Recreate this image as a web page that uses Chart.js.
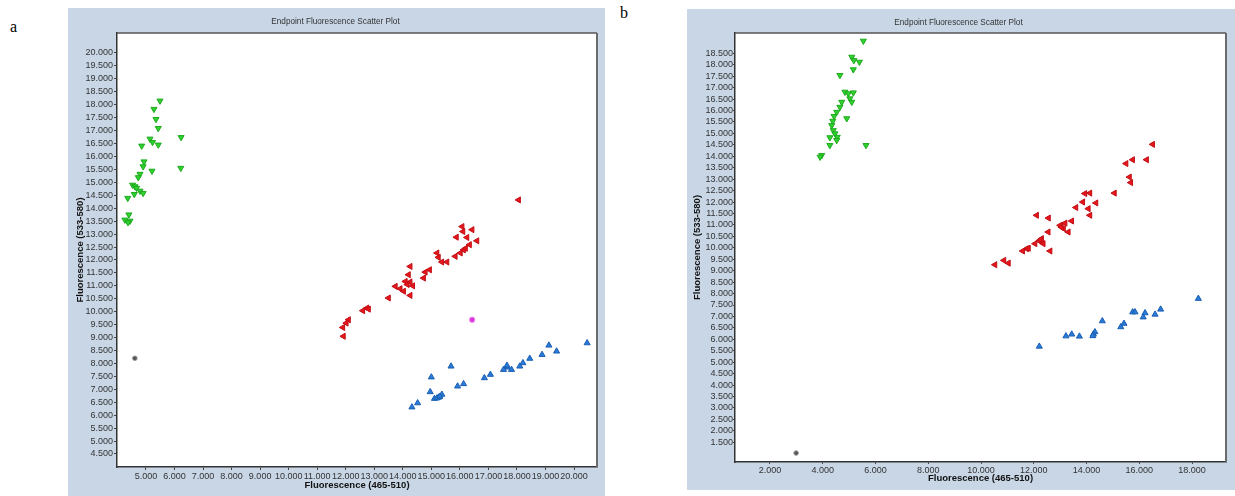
<!DOCTYPE html>
<html>
<head>
<meta charset="utf-8">
<script src="https://cdn.jsdelivr.net/npm/chart.js@4/dist/chart.umd.min.js"></script>
<style>
  body { margin: 0; background: #fff; width: 1235px; height: 496px; overflow: hidden; position: relative; }
  .panel { position: absolute; }
  .tag { position: absolute; font: 16px "Liberation Serif", serif; color: #000; line-height: 16px; }
</style>
</head>
<body>
<div class="tag" style="left:10px;top:19px">a</div>
<div class="tag" style="left:620px;top:5px">b</div>
<canvas id="chartA" class="panel" width="537" height="488" style="left:68px;top:8px"></canvas>
<canvas id="chartB" class="panel" width="548" height="481" style="left:687px;top:9px"></canvas>
<script>
// panel a (thousands of RFU)
const greenAx = [5.49, 5.28, 5.35, 5.43, 6.23, 5.14, 5.23, 4.85, 5.43, 4.93, 4.90, 5.21, 6.22, 4.79, 4.73, 4.53, 4.61, 4.67, 4.79, 4.90, 4.59, 4.36, 4.40, 4.26, 4.44, 4.37];
const greenAy = [18.15, 17.83, 17.44, 17.09, 16.74, 16.68, 16.55, 16.41, 16.45, 15.80, 15.61, 15.44, 15.55, 15.32, 15.19, 14.90, 14.84, 14.78, 14.67, 14.58, 14.54, 14.39, 13.75, 13.55, 13.51, 13.45];
const redAx = [18.06, 16.08, 16.43, 16.11, 15.88, 16.25, 16.60, 16.34, 16.13, 16.02, 15.84, 15.20, 15.25, 15.37, 15.55, 14.26, 14.94, 14.79, 14.20, 14.73, 14.09, 14.26, 13.74, 13.91, 14.16, 14.03, 14.26, 13.50, 12.74, 12.60, 12.10, 12.02, 11.90, 11.92, 12.80, 14.35, 16.20];
const redAy = [14.32, 13.29, 13.17, 13.10, 12.88, 12.87, 12.74, 12.59, 12.39, 12.27, 12.14, 12.27, 12.10, 11.92, 11.92, 11.75, 11.62, 11.53, 11.43, 11.30, 11.17, 11.15, 10.98, 10.89, 11.05, 10.79, 10.63, 10.53, 10.14, 10.04, 9.69, 9.56, 9.39, 9.05, 10.10, 11.00, 12.45];
const blueAx = [20.46, 19.12, 19.39, 18.88, 18.45, 18.21, 18.10, 17.65, 17.53, 17.81, 17.65, 17.07, 16.86, 15.69, 15.00, 16.13, 15.92, 14.96, 15.37, 15.26, 15.11, 14.52, 14.32, 15.20, 15.30];
const blueAy = [8.79, 8.70, 8.47, 8.34, 8.19, 8.02, 7.89, 7.85, 7.76, 7.76, 7.92, 7.57, 7.44, 7.89, 7.47, 7.21, 7.12, 6.90, 6.80, 6.69, 6.64, 6.47, 6.31, 6.66, 6.72];
const pinkAx = [16.43];
const pinkAy = [9.69];
const greyAx = [4.61];
const greyAy = [8.20];

// panel b
const greenBx = [5.54, 5.10, 5.18, 5.39, 5.16, 4.65, 4.84, 4.97, 5.16, 5.03, 5.10, 4.72, 4.65, 4.53, 4.91, 4.43, 4.38, 4.34, 4.40, 4.46, 4.55, 4.27, 4.53, 4.27, 5.64, 3.96, 3.90];
const greenBy = [19.04, 18.34, 18.19, 18.12, 17.79, 17.54, 16.81, 16.74, 16.78, 16.52, 16.37, 16.37, 16.15, 15.93, 15.65, 15.75, 15.54, 15.35, 15.13, 14.99, 14.84, 14.82, 14.70, 14.48, 14.48, 14.04, 13.97];
const redBx = [16.51, 15.75, 15.50, 16.28, 15.63, 15.68, 15.06, 14.13, 13.94, 13.86, 14.36, 13.60, 14.07, 14.13, 12.11, 12.56, 13.44, 13.19, 13.00, 13.13, 13.31, 12.55, 12.30, 12.21, 12.05, 12.36, 12.62, 11.73, 11.58, 10.87, 11.04, 10.53, 13.05, 12.25, 11.80];
const redBy = [14.52, 13.85, 13.68, 13.85, 13.09, 12.85, 12.39, 12.39, 12.37, 12.00, 11.96, 11.76, 11.71, 11.42, 11.42, 11.30, 11.17, 11.08, 10.98, 10.84, 10.69, 10.69, 10.40, 10.30, 10.18, 10.18, 9.86, 9.96, 9.86, 9.45, 9.33, 9.26, 10.90, 10.35, 9.98];
const blueBx = [18.24, 16.81, 16.60, 16.22, 16.15, 15.75, 15.84, 15.42, 15.30, 14.60, 14.32, 14.26, 14.24, 13.73, 13.44, 13.22, 12.21];
const blueBy = [7.78, 7.31, 7.09, 7.15, 6.97, 7.19, 7.19, 6.69, 6.54, 6.80, 6.32, 6.22, 6.15, 6.13, 6.22, 6.14, 5.69];
const greyBx = [2.99];
const greyBy = [1.03];

// tick labels
const xTicksA = [5, 6, 7, 8, 9, 10, 11, 12, 13, 14, 15, 16, 17, 18, 19, 20];
const yTicksA = [4.5, 5, 5.5, 6, 6.5, 7, 7.5, 8, 8.5, 9, 9.5, 10, 10.5, 11, 11.5, 12, 12.5, 13, 13.5, 14, 14.5, 15, 15.5, 16, 16.5, 17, 17.5, 18, 18.5, 19, 19.5, 20];
const xTicksB = [2, 4, 6, 8, 10, 12, 14, 16, 18];
const yTicksB = [1.5, 2, 2.5, 3, 3.5, 4, 4.5, 5, 5.5, 6, 6.5, 7, 7.5, 8, 8.5, 9, 9.5, 10, 10.5, 11, 11.5, 12, 12.5, 13, 13.5, 14, 14.5, 15, 15.5, 16, 16.5, 17, 17.5, 18, 18.5];

const TITLE = 'Endpoint Fluorescence Scatter Plot';
const FRAME = '#c8d6e6';
const FONT = '"Liberation Sans", Arial, sans-serif';

const pts = (xs, ys) => xs.map((x, i) => ({ x, y: ys[i] }));

// frame, white plot area, border and title
const framePlugin = {
  id: 'frame',
  beforeDraw(chart, args, opts) {
    const { ctx, chartArea: a } = chart;
    ctx.save();
    ctx.fillStyle = FRAME;
    ctx.fillRect(0, 0, chart.width, chart.height);
    ctx.fillStyle = '#fff';
    ctx.fillRect(a.left, a.top, a.right - a.left, a.bottom - a.top);
    ctx.restore();
  },
  afterDraw(chart, args, opts) {
    const { ctx, chartArea: a } = chart;
    ctx.save();
    ctx.strokeStyle = '#555';
    ctx.lineWidth = 1.5;
    ctx.beginPath();
    ctx.moveTo(a.left, a.top);
    ctx.lineTo(a.right, a.top);
    ctx.stroke();
    ctx.strokeStyle = '#6b6b6b';
    ctx.lineWidth = 2;
    ctx.beginPath();
    ctx.moveTo(a.right, a.top);
    ctx.lineTo(a.right, a.bottom);
    ctx.stroke();
    ctx.fillStyle = '#333';
    ctx.font = '8.2px ' + FONT;
    ctx.textAlign = 'center';
    ctx.textBaseline = 'middle';
    ctx.fillText(TITLE, opts.titleX, opts.titleY);
    ctx.restore();
  }
};

function axis(min, max, ticks, title, o) {
  return {
    type: 'linear',
    min, max,
    afterBuildTicks: s => { s.ticks = ticks.map(v => ({ value: v })); },
    afterFit: s => { if (s.isHorizontal()) s.height = o.size; else s.width = o.size; },
    ticks: {
      autoSkip: false,
      maxRotation: 0,
      padding: o.pad,
      color: '#333',
      font: { family: FONT, size: 9 },
      callback: v => Number(v).toFixed(3)
    },
    grid: { drawOnChartArea: false, drawTicks: true, tickLength: o.tick, color: '#444' },
    border: { display: true, color: '#333', width: 1.5 },
    title: {
      display: true,
      text: title,
      color: '#111',
      font: { family: FONT, size: 9.5, weight: 'bold' },
      padding: o.titlePad
    }
  };
}

function makeChart(id, sets, scales, layoutPad, titlePos) {
  return new Chart(document.getElementById(id), {
    type: 'scatter',
    data: { datasets: sets },
    options: {
      responsive: false,
      animation: false,
      devicePixelRatio: 1,
      layout: { padding: layoutPad },
      plugins: {
        legend: { display: false },
        tooltip: { enabled: false },
        frame: titlePos
      },
      scales
    },
    plugins: [framePlugin]
  });
}

const green = (xs, ys) => ({ data: pts(xs, ys), pointStyle: 'triangle', rotation: 180, pointRadius: 3.5, backgroundColor: '#2ed12e', borderColor: '#1faa1f', borderWidth: 1 });
const red = (xs, ys) => ({ data: pts(xs, ys), pointStyle: 'triangle', rotation: 270, pointRadius: 3.5, backgroundColor: '#e8161c', borderColor: '#c00f14', borderWidth: 1 });
const blue = (xs, ys) => ({ data: pts(xs, ys), pointStyle: 'triangle', rotation: 0, pointRadius: 3.5, backgroundColor: '#2a7ad8', borderColor: '#1b5fb2', borderWidth: 1 });
const pink = (xs, ys) => ({ data: pts(xs, ys), pointStyle: 'circle', pointRadius: 2.8, backgroundColor: '#dd33dd', borderColor: '#efa0ef', borderWidth: 1 });
const grey = (xs, ys) => ({ data: pts(xs, ys), pointStyle: 'circle', pointRadius: 2.3, backgroundColor: '#555', borderColor: '#999', borderWidth: 1 });

makeChart('chartA',
  [green(greenAx, greenAy), red(redAx, redAy), blue(blueAx, blueAy), pink(pinkAx, pinkAy), grey(greyAx, greyAy)],
  {
    x: axis(3.984, 20.806, xTicksA, 'Fluorescence (465-510)', { size: 29, pad: 1, tick: 3, titlePad: { top: 0, bottom: 5 } }),
    y: axis(3.997, 20.773, yTicksA, 'Fluorescence (533-580)', { size: 49, pad: 1, tick: 3, titlePad: { top: 7, bottom: 0 } })
  },
  { left: 0, top: 25, right: 8, bottom: 0 },
  { titleX: 267.5, titleY: 14 }
);

makeChart('chartB',
  [green(greenBx, greenBy), red(redBx, redBy), blue(blueBx, blueBy), grey(greyBx, greyBy)],
  {
    x: axis(0.673, 19.289, xTicksB, 'Fluorescence (465-510)', { size: 28, pad: 1.5, tick: 2, titlePad: { top: 0, bottom: 6 } }),
    y: axis(0.639, 19.387, yTicksB, 'Fluorescence (533-580)', { size: 48, pad: 0, tick: 2, titlePad: { top: 5, bottom: 0 } })
  },
  { left: 0, top: 24, right: 9, bottom: 0 },
  { titleX: 271.5, titleY: 14 }
);
</script>
</body>
</html>
